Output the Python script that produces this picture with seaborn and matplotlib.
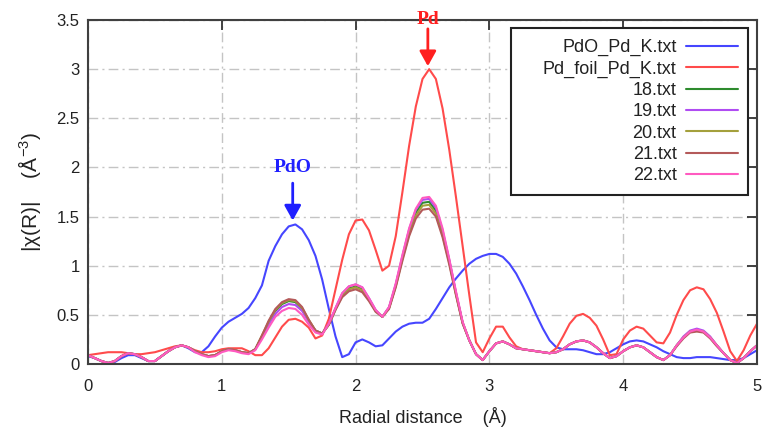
import numpy as np
import pandas as pd
import seaborn as sns
import matplotlib.pyplot as plt
from matplotlib.patches import Rectangle
from matplotlib.ticker import FormatStrFormatter

# radial distance grid (Å), step 0.05
r = np.round(np.linspace(0, 5, 101), 2)

pdo = [0.08, 0.06, 0.03, 0.01, 0.02, 0.06, 0.09, 0.09, 0.06, 0.03, 0.03, 0.08, 0.13, 0.17, 0.19, 0.16, 0.12, 0.12, 0.18, 0.28,
       0.37, 0.43, 0.47, 0.51, 0.57, 0.67, 0.80, 1.05, 1.20, 1.32, 1.40, 1.42, 1.37, 1.26, 1.10, 0.86, 0.56, 0.28, 0.07, 0.10,
       0.22, 0.25, 0.22, 0.18, 0.19, 0.26, 0.33, 0.38, 0.41, 0.42, 0.42, 0.46, 0.56, 0.67, 0.78, 0.87, 0.95, 1.02, 1.07, 1.10,
       1.12, 1.12, 1.09, 1.02, 0.92, 0.79, 0.65, 0.50, 0.36, 0.24, 0.17, 0.15, 0.15, 0.15, 0.14, 0.12, 0.10, 0.10, 0.12, 0.16,
       0.20, 0.23, 0.24, 0.23, 0.20, 0.17, 0.13, 0.10, 0.07, 0.06, 0.06, 0.07, 0.07, 0.07, 0.06, 0.05, 0.04, 0.04, 0.06, 0.10,
       0.14]
pd_foil = [0.09, 0.10, 0.11, 0.12, 0.12, 0.12, 0.11, 0.10, 0.10, 0.11, 0.12, 0.14, 0.16, 0.18, 0.19, 0.17, 0.14, 0.12, 0.12, 0.13,
           0.15, 0.16, 0.16, 0.16, 0.13, 0.09, 0.09, 0.16, 0.27, 0.38, 0.45, 0.46, 0.43, 0.37, 0.26, 0.29, 0.46, 0.76, 1.06, 1.32,
           1.46, 1.47, 1.36, 1.16, 0.95, 1.00, 1.30, 1.75, 2.22, 2.62, 2.90, 3.00, 2.90, 2.60, 2.18, 1.70, 1.20, 0.70, 0.22, 0.12,
           0.26, 0.38, 0.38, 0.27, 0.18, 0.15, 0.14, 0.13, 0.12, 0.11, 0.16, 0.28, 0.41, 0.49, 0.51, 0.47, 0.39, 0.25, 0.09, 0.10,
           0.25, 0.34, 0.38, 0.36, 0.29, 0.22, 0.21, 0.32, 0.50, 0.65, 0.75, 0.78, 0.76, 0.66, 0.52, 0.33, 0.13, 0.03, 0.14, 0.29,
           0.41]
s18 = [0.09, 0.06, 0.03, 0.01, 0.03, 0.08, 0.11, 0.10, 0.07, 0.03, 0.03, 0.08, 0.13, 0.17, 0.19, 0.17, 0.13, 0.10, 0.08, 0.09,
       0.13, 0.15, 0.14, 0.12, 0.11, 0.15, 0.28, 0.42, 0.54, 0.61, 0.64, 0.63, 0.56, 0.44, 0.34, 0.31, 0.40, 0.56, 0.70, 0.77,
       0.79, 0.76, 0.66, 0.54, 0.48, 0.57, 0.80, 1.08, 1.35, 1.54, 1.64, 1.65, 1.56, 1.34, 1.05, 0.72, 0.42, 0.24, 0.10, 0.04,
       0.13, 0.21, 0.23, 0.20, 0.16, 0.15, 0.14, 0.13, 0.12, 0.11, 0.12, 0.15, 0.20, 0.23, 0.24, 0.22, 0.17, 0.11, 0.06, 0.08,
       0.13, 0.17, 0.19, 0.17, 0.12, 0.07, 0.04, 0.09, 0.19, 0.27, 0.33, 0.35, 0.33, 0.27, 0.19, 0.11, 0.04, 0.01, 0.06, 0.13,
       0.19]
s19 = [0.09, 0.06, 0.03, 0.01, 0.03, 0.08, 0.11, 0.10, 0.07, 0.03, 0.03, 0.08, 0.13, 0.17, 0.19, 0.17, 0.13, 0.10, 0.08, 0.09,
       0.13, 0.15, 0.14, 0.12, 0.11, 0.15, 0.27, 0.40, 0.51, 0.58, 0.61, 0.60, 0.54, 0.43, 0.34, 0.31, 0.41, 0.57, 0.72, 0.79,
       0.81, 0.78, 0.67, 0.55, 0.48, 0.58, 0.81, 1.10, 1.37, 1.57, 1.67, 1.68, 1.59, 1.36, 1.06, 0.73, 0.42, 0.24, 0.10, 0.04,
       0.13, 0.21, 0.23, 0.20, 0.16, 0.15, 0.14, 0.13, 0.12, 0.11, 0.12, 0.15, 0.20, 0.23, 0.24, 0.22, 0.17, 0.11, 0.06, 0.08,
       0.13, 0.17, 0.19, 0.17, 0.12, 0.07, 0.04, 0.09, 0.19, 0.28, 0.34, 0.36, 0.34, 0.28, 0.19, 0.11, 0.04, 0.01, 0.06, 0.13,
       0.19]
s20 = [0.09, 0.06, 0.03, 0.01, 0.03, 0.08, 0.11, 0.10, 0.07, 0.03, 0.03, 0.08, 0.13, 0.17, 0.19, 0.17, 0.13, 0.10, 0.08, 0.09,
       0.13, 0.15, 0.14, 0.12, 0.11, 0.15, 0.29, 0.43, 0.55, 0.62, 0.65, 0.64, 0.57, 0.45, 0.34, 0.31, 0.40, 0.56, 0.69, 0.76,
       0.78, 0.75, 0.65, 0.54, 0.48, 0.57, 0.79, 1.07, 1.32, 1.51, 1.61, 1.62, 1.53, 1.31, 1.03, 0.71, 0.42, 0.24, 0.10, 0.04,
       0.13, 0.21, 0.23, 0.20, 0.16, 0.15, 0.14, 0.13, 0.12, 0.11, 0.12, 0.15, 0.20, 0.23, 0.24, 0.22, 0.17, 0.11, 0.06, 0.08,
       0.13, 0.17, 0.19, 0.17, 0.12, 0.07, 0.04, 0.09, 0.19, 0.27, 0.33, 0.34, 0.33, 0.27, 0.19, 0.11, 0.04, 0.01, 0.06, 0.13,
       0.19]
s21 = [0.09, 0.06, 0.03, 0.01, 0.03, 0.08, 0.11, 0.10, 0.07, 0.03, 0.03, 0.08, 0.13, 0.17, 0.19, 0.17, 0.13, 0.10, 0.08, 0.09,
       0.13, 0.15, 0.14, 0.12, 0.11, 0.15, 0.29, 0.44, 0.56, 0.63, 0.66, 0.65, 0.58, 0.45, 0.34, 0.31, 0.40, 0.55, 0.68, 0.74,
       0.76, 0.73, 0.64, 0.53, 0.48, 0.56, 0.78, 1.05, 1.30, 1.48, 1.57, 1.58, 1.50, 1.29, 1.01, 0.70, 0.41, 0.24, 0.10, 0.04,
       0.13, 0.21, 0.23, 0.20, 0.16, 0.15, 0.14, 0.13, 0.12, 0.11, 0.12, 0.15, 0.20, 0.23, 0.24, 0.22, 0.17, 0.11, 0.06, 0.08,
       0.13, 0.17, 0.19, 0.17, 0.12, 0.07, 0.04, 0.09, 0.18, 0.26, 0.32, 0.33, 0.32, 0.26, 0.18, 0.11, 0.04, 0.01, 0.06, 0.13,
       0.19]
s22 = [0.09, 0.06, 0.03, 0.01, 0.03, 0.08, 0.11, 0.10, 0.07, 0.03, 0.03, 0.08, 0.13, 0.17, 0.19, 0.17, 0.12, 0.09, 0.07, 0.08,
       0.12, 0.14, 0.13, 0.11, 0.10, 0.14, 0.25, 0.37, 0.48, 0.54, 0.57, 0.56, 0.50, 0.40, 0.32, 0.30, 0.41, 0.57, 0.72, 0.79,
       0.81, 0.78, 0.67, 0.55, 0.48, 0.58, 0.82, 1.11, 1.38, 1.58, 1.69, 1.70, 1.61, 1.38, 1.07, 0.74, 0.43, 0.24, 0.10, 0.04,
       0.13, 0.21, 0.23, 0.20, 0.16, 0.15, 0.14, 0.13, 0.12, 0.11, 0.12, 0.15, 0.20, 0.23, 0.24, 0.22, 0.17, 0.11, 0.06, 0.08,
       0.13, 0.17, 0.19, 0.17, 0.12, 0.07, 0.04, 0.09, 0.19, 0.27, 0.33, 0.35, 0.33, 0.27, 0.19, 0.11, 0.04, 0.01, 0.06, 0.13,
       0.19]

files = ['PdO_Pd_K.txt', 'Pd_foil_Pd_K.txt', '18.txt', '19.txt', '20.txt', '21.txt', '22.txt']
series = [pdo, pd_foil, s18, s19, s20, s21, s22]
colors = ['#4646ff', '#ff4b4b', '#2e8b2e', '#b04cf2', '#a4a03c', '#b45a5a', '#ff5ac0']

sns.set_style('white')
plt.rcParams['font.family'] = ['Liberation Sans', 'DejaVu Sans']
plt.rcParams['mathtext.fontset'] = 'custom'
plt.rcParams['mathtext.rm'] = 'Liberation Sans'
plt.rcParams['mathtext.it'] = 'Liberation Sans:italic'

df = pd.concat([pd.DataFrame({'R': r, 'chi': v, 'file': f}) for f, v in zip(files, series)],
               ignore_index=True)

fig = plt.figure(figsize=(7.62, 4.30), dpi=100)
ax = fig.add_axes([88 / 762, 66 / 430, 669 / 762, 344 / 430])

sns.lineplot(data=df, x='R', y='chi', hue='file', hue_order=files,
             palette=dict(zip(files, colors)), linewidth=1.5,
             estimator=None, sort=False, ax=ax, solid_joinstyle='round')

ax.set_xlim(0, 5)
ax.set_ylim(0, 3.5)
ax.set_xticks(range(0, 6))
ax.set_yticks(np.arange(0, 3.51, 0.5))
ax.yaxis.set_major_formatter(FormatStrFormatter('%g'))
ax.grid(True, color='#c4c4c4', linestyle=(0, (7, 3, 1.5, 3)), linewidth=1)
ax.set_axisbelow(True)
ax.tick_params(direction='in', length=7, width=1.3, top=True, right=True,
               labelsize=12, color='#333333', labelcolor='#222222')
ax.tick_params(axis='x', pad=11)
ax.tick_params(axis='y', pad=6)
for s in ax.spines.values():
    s.set_color('#404040')
    s.set_linewidth(1.5)

ax.set_xlabel('Radial distance    (Å)', fontsize=13, labelpad=9, color='#222222')
ax.set_ylabel('|χ(R)|    (Å$^{-3}$)', fontsize=15, labelpad=10, color='#222222')

# legend in a gnuplot style box: labels on the left, lines on the right
ax.add_patch(Rectangle((0.632, 0.491), 0.355, 0.486, transform=ax.transAxes,
                       facecolor='white', edgecolor='#222222', lw=1.5, zorder=4))
handles, labels = ax.get_legend_handles_labels()
leg = ax.legend(handles, labels, loc='upper right',
                bbox_to_anchor=((738 - 88) / 669, (364 - 39) / 344),
                frameon=False, markerfirst=False, fontsize=13, handlelength=2.9,
                handletextpad=0.5, labelspacing=0.24, borderpad=0, borderaxespad=0)
for t in leg.get_texts():
    t.set_color('#222222')

# peak markers
ax.annotate('', xy=(1.53, 1.46), xytext=(1.53, 1.84),
            arrowprops=dict(arrowstyle='-|>,head_length=0.9,head_width=0.5', color='#1f1fff',
                            lw=2, mutation_scale=10, shrinkA=0, shrinkB=0))
ax.text(1.53, 2.0, 'PdO', color='#1f1fff', fontsize=14, fontweight='bold',
        family='Liberation Serif', ha='center', va='center')
ax.annotate('', xy=(2.54, 3.03), xytext=(2.54, 3.41),
            arrowprops=dict(arrowstyle='-|>,head_length=0.9,head_width=0.5', color='#ff1f1f',
                            lw=2, mutation_scale=10, shrinkA=0, shrinkB=0))
ax.text(2.54, 3.50, 'Pd', color='#ff1f1f', fontsize=14, fontweight='bold',
        family='Liberation Serif', ha='center', va='center', clip_on=False, zorder=6)

fig.savefig('out.png', dpi=100)
